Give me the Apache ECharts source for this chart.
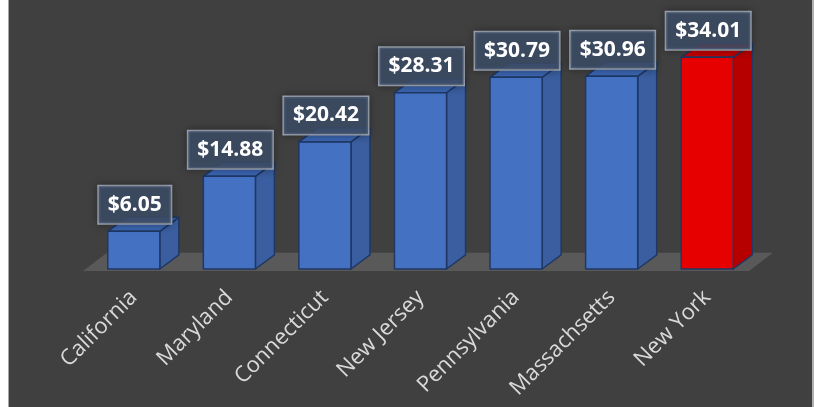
<!DOCTYPE html>
<html>
<head>
<meta charset="utf-8">
<script src="https://cdn.jsdelivr.net/npm/echarts@6/dist/echarts.min.js"></script>
<style>
  html, body { margin: 0; padding: 0; background: #fff; }
  .frame {
    position: absolute; left: 8px; top: 0; width: 803px; height: 407px;
    background: #404040; border-left: 1px solid #a6a6a6; border-right: 2px solid #b0b0b0;
  }
  #chart { position: absolute; left: 0; top: 0; width: 815px; height: 407px; }
</style>
</head>
<body>
<div class="frame"></div>
<div id="chart"></div>
<script>
// 数据
const states = ['California', 'Maryland', 'Connecticut', 'New Jersey', 'Pennsylvania', 'Massachsetts', 'New York']
const prices = [6.05, 14.88, 20.42, 28.31, 30.79, 30.96, 34.01]
const highlightIndex = 6

const chart = echarts.init(document.getElementById('chart'), null, { renderer: 'canvas' })

const palette = {
  blue: { front: '#4471c2', side: '#3a5e9f', top: '#3c66b2' },
  red: { front: '#e60000', side: '#b60000', top: '#c20000' }
}
const edge = '#1f3864'

// 柱子（带侧面和顶面）
const renderBar = (params, api) => {
  const idx = params.dataIndex
  const val = api.value(1)
  const base = api.coord([api.value(0), 0])
  const top = api.coord([api.value(0), val])
  const band = api.size([1, 0])[0]
  const w = band * 0.545
  const dx = w * 0.365
  const dy = -w * 0.27
  const x0 = base[0] - w / 2
  const x1 = base[0] + w / 2
  const yb = base[1]
  const yt = top[1]
  const c = idx === highlightIndex ? palette.red : palette.blue
  const lineStyle = { stroke: edge, lineWidth: 1.5, lineJoin: 'round' }
  return {
    type: 'group',
    children: [
      {
        type: 'polygon',
        shape: { points: [[x1, yb], [x1 + dx, yb + dy], [x1 + dx, yt + dy], [x1, yt]] },
        style: Object.assign({ fill: c.side }, lineStyle)
      },
      {
        type: 'polygon',
        shape: { points: [[x0, yt], [x1, yt], [x1 + dx, yt + dy], [x0 + dx, yt + dy]] },
        style: Object.assign({ fill: c.top }, lineStyle)
      },
      {
        type: 'rect',
        shape: { x: x0, y: yt, width: w, height: yb - yt },
        style: Object.assign({ fill: c.front }, lineStyle)
      },
      {
        type: 'text',
        z2: 100,
        x: base[0] + 1,
        y: yt - 8,
        style: {
          text: '$' + val.toFixed(2),
          fill: '#ffffff',
          font: 'bold 21px "Open Sans", sans-serif',
          align: 'center',
          verticalAlign: 'bottom',
          backgroundColor: 'rgba(62,78,104,0.86)',
          borderColor: '#a3abb8',
          borderWidth: 1.5,
          padding: [5, 9, 5, 9],
          lineHeight: 27,
          shadowBlur: 8,
          shadowColor: 'rgba(0,0,0,0.35)'
        }
      }
    ]
  }
}

// 地板
const renderFloor = (params, api) => {
  const cs = params.coordSys
  const band = api.size([1, 0])[0]
  const yb = cs.y + cs.height + 2
  const left = cs.x - 3
  const right = cs.x + cs.width - 6
  const dx = band * 0.25
  const dy = -band * 0.19
  return {
    type: 'polygon',
    shape: { points: [[left, yb], [right, yb], [right + dx, yb + dy], [left + dx, yb + dy]] },
    style: { fill: '#595959' }
  }
}

chart.setOption({
  backgroundColor: 'transparent',
  animation: false,
  grid: { left: 86, right: 60, top: 20, bottom: 138, containLabel: false },
  xAxis: {
    type: 'category',
    data: states,
    axisLine: { show: false },
    axisTick: { show: false },
    axisLabel: {
      rotate: 45,
      margin: 25,
      color: '#d9d9d9',
      fontSize: 22,
      fontFamily: '"Open Sans", sans-serif'
    }
  },
  yAxis: {
    type: 'value',
    min: 0,
    max: 40,
    show: false
  },
  series: [
    {
      type: 'custom',
      renderItem: renderFloor,
      data: [[0, 0]],
      silent: true,
      z: 1
    },
    {
      type: 'custom',
      renderItem: renderBar,
      data: prices.map((v, i) => [i, v]),
      encode: { x: 0, y: 1 },
      z: 2
    }
  ]
})
</script>
</body>
</html>
